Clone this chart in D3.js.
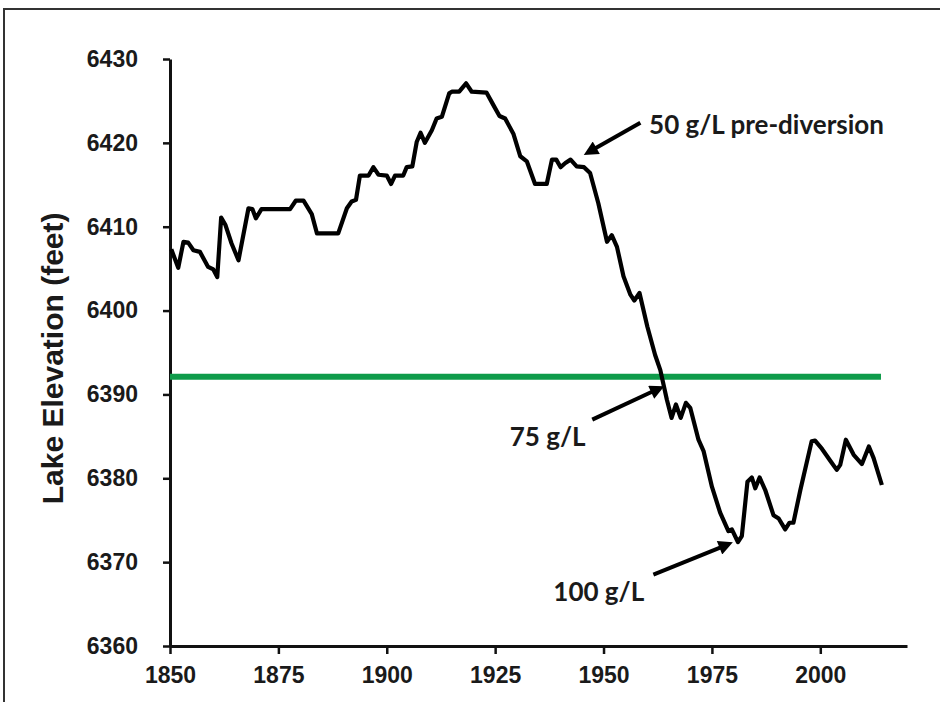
<!DOCTYPE html>
<html>
<head>
<meta charset="utf-8">
<script src="https://cdn.jsdelivr.net/npm/d3@7"></script>
<style>
body { margin: 0; background: #fff; }
svg { display: block; }
</style>
</head>
<body>
<div id="chart"></div>
<script>
// lake elevation (year, feet)
var years = [1850.3, 1851.9, 1853.1, 1854.2, 1855.4, 1856.9, 1858.8, 1860.0, 1860.9, 1861.8,
    1862.8, 1864.2, 1865.8, 1868.1, 1869.0, 1869.8, 1871.1, 1877.7, 1879.0, 1880.8,
    1882.7, 1883.9, 1888.8, 1890.8, 1891.9, 1892.9, 1893.8, 1895.8, 1896.9, 1898.1,
    1900.0, 1901.0, 1901.9, 1903.8, 1904.6, 1905.9, 1906.9, 1907.8, 1908.8, 1910.4,
    1911.5, 1912.7, 1914.4, 1915.0, 1916.7, 1918.3, 1919.6, 1923.0, 1924.6, 1926.0,
    1927.3, 1929.2, 1930.8, 1932.3, 1934.2, 1936.9, 1938.1, 1939.1, 1940.1, 1941.2,
    1942.4, 1943.8, 1945.5, 1946.9, 1948.8, 1950.8, 1951.9, 1953.1, 1954.6, 1956.2,
    1957.1, 1958.3, 1960.1, 1961.9, 1963.1, 1964.6, 1965.7, 1966.7, 1967.8, 1969.0,
    1970.0, 1971.9, 1973.1, 1975.0, 1976.9, 1978.8, 1979.6, 1981.0, 1981.9, 1983.2,
    1984.2, 1985.0, 1986.0, 1987.3, 1989.2, 1990.4, 1991.9, 1992.9, 1993.8, 1995.4,
    1998.0, 1998.8, 2000.4, 2002.3, 2003.8, 2004.6, 2005.9, 2007.7, 2009.6, 2011.2,
    2012.3, 2014.2];
var elevation = [6407.3, 6405.1, 6408.2, 6408.1, 6407.2, 6407.0, 6405.2, 6404.9, 6404.0, 6411.1,
    6410.2, 6408.0, 6406.0, 6412.2, 6412.1, 6411.0, 6412.1, 6412.1, 6413.1, 6413.1,
    6411.5, 6409.2, 6409.2, 6412.2, 6413.0, 6413.2, 6416.1, 6416.1, 6417.1, 6416.2,
    6416.1, 6415.1, 6416.1, 6416.1, 6417.1, 6417.2, 6420.1, 6421.2, 6420.0, 6421.5,
    6422.9, 6423.1, 6425.9, 6426.1, 6426.1, 6427.1, 6426.1, 6426.0, 6424.5, 6423.2,
    6422.9, 6421.1, 6418.4, 6417.8, 6415.1, 6415.1, 6418.0, 6418.0, 6417.1, 6417.6,
    6418.0, 6417.2, 6417.1, 6416.4, 6412.8, 6408.2, 6409.0, 6407.6, 6404.1, 6401.9,
    6401.2, 6402.1, 6398.1, 6394.7, 6392.9, 6389.4, 6387.2, 6388.8, 6387.2, 6389.0,
    6388.4, 6384.6, 6383.2, 6379.0, 6375.9, 6373.7, 6373.9, 6372.4, 6373.1, 6379.6,
    6380.1, 6378.8, 6380.1, 6378.6, 6375.6, 6375.2, 6373.9, 6374.7, 6374.7, 6378.6,
    6384.4, 6384.5, 6383.5, 6382.1, 6381.0, 6381.6, 6384.6, 6382.8, 6381.7, 6383.8,
    6382.4, 6379.2];

var xTicks = [1850, 1875, 1900, 1925, 1950, 1975, 2000];
var yTicks = [6360, 6370, 6380, 6390, 6400, 6410, 6420, 6430];

// green reference level (75 g/L)
var refLevel = 6392.1;
var refYears = [1850, 2014];

// annotation labels and arrows, in data units
var noteLabels = ['50 g/L pre-diversion', '75 g/L', '100 g/L'];
var noteTextAt = [[1960.5, 6422.2], [1937.1, 6385.0], [1948.9, 6366.5]];
var noteAnchor = ['start', 'middle', 'middle'];
var arrowFrom = [[1958.5, 6422.4], [1947.4, 6387.0], [1961.5, 6368.5]];
var arrowTo = [[1946.6, 6418.9], [1962.8, 6390.7], [1978.6, 6372.1]];

var width = 940, height = 702;
var margin = {top: 59, right: 33, bottom: 56, left: 170};

var svg = d3.select('#chart').append('svg')
    .attr('width', width)
    .attr('height', height);

// outer frame (only top and left edges show)
svg.append('path')
    .attr('d', 'M4,702 L4,9 L940,9')
    .attr('fill', 'none')
    .attr('stroke', '#333')
    .attr('stroke-width', 2);

var x = d3.scaleLinear().domain([1850, 2020]).range([margin.left, width - margin.right]);
var y = d3.scaleLinear().domain([6360, 6430]).range([height - margin.bottom, margin.top]);

var tickFont = '"Liberation Sans", Arial, sans-serif';

var xAxis = svg.append('g')
    .attr('transform', 'translate(0,' + (height - margin.bottom) + ')')
    .call(d3.axisBottom(x).tickValues(xTicks).tickFormat(d3.format('d')).tickSize(8).tickSizeOuter(0));
xAxis.select('.domain').attr('stroke', '#111').attr('stroke-width', 3);
xAxis.selectAll('.tick line').attr('stroke', '#111').attr('stroke-width', 2.5);
xAxis.selectAll('.tick text')
    .attr('dy', '1.15em')
    .style('font-family', tickFont)
    .style('font-size', '23px')
    .style('font-weight', 'bold')
    .attr('fill', '#1a1a1a');

var yAxis = svg.append('g')
    .attr('transform', 'translate(' + margin.left + ',0)')
    .call(d3.axisLeft(y).tickValues(yTicks).tickFormat(d3.format('d')).tickSize(7).tickSizeOuter(0));
yAxis.select('.domain').attr('stroke', '#111').attr('stroke-width', 3);
yAxis.selectAll('.tick line').attr('stroke', '#111').attr('stroke-width', 2.5);
yAxis.selectAll('.tick text')
    .attr('x', -32)
    .style('font-family', tickFont)
    .style('font-size', '23px')
    .style('font-weight', 'bold')
    .attr('fill', '#1a1a1a');

svg.append('text')
    .attr('transform', 'translate(52,' + y(6394.3) + ') rotate(-90)')
    .attr('text-anchor', 'middle')
    .attr('dominant-baseline', 'central')
    .style('font-family', tickFont)
    .style('font-size', '30px')
    .style('font-weight', 'bold')
    .attr('fill', '#1a1a1a')
    .text('Lake Elevation (feet)');

// green level line
svg.append('line')
    .attr('x1', x(refYears[0]))
    .attr('x2', x(refYears[1]))
    .attr('y1', y(refLevel))
    .attr('y2', y(refLevel))
    .attr('stroke', '#0e9b4a')
    .attr('stroke-width', 6);

var data = years.map(function(d, i) { return [d, elevation[i]]; });
var line = d3.line()
    .x(function(d) { return x(d[0]); })
    .y(function(d) { return y(d[1]); });

svg.append('path')
    .datum(data)
    .attr('d', line)
    .attr('fill', 'none')
    .attr('stroke', '#000')
    .attr('stroke-width', 4.2)
    .attr('stroke-linejoin', 'round');

svg.append('defs').append('marker')
    .attr('id', 'head')
    .attr('viewBox', '0 0 10 10')
    .attr('refX', 6)
    .attr('refY', 5)
    .attr('markerWidth', 4.2)
    .attr('markerHeight', 3.6)
    .attr('markerUnits', 'strokeWidth')
    .attr('orient', 'auto')
    .append('path')
    .attr('d', 'M0,0 L10,5 L0,10 Z')
    .attr('fill', '#000');

noteLabels.forEach(function(label, i) {
    var a = arrowFrom[i], b = arrowTo[i];
    svg.append('line')
        .attr('x1', x(a[0])).attr('y1', y(a[1]))
        .attr('x2', x(b[0])).attr('y2', y(b[1]))
        .attr('stroke', '#000')
        .attr('stroke-width', 4)
        .attr('marker-end', 'url(#head)');
    svg.append('text')
        .attr('x', x(noteTextAt[i][0]))
        .attr('y', y(noteTextAt[i][1]))
        .attr('text-anchor', noteAnchor[i])
        .attr('dominant-baseline', 'central')
        .style('font-family', 'Lato, "Open Sans", sans-serif')
        .style('font-size', '26px')
        .style('font-weight', 'bold')
        .attr('fill', '#1a1a1a')
        .text(label);
});
</script>
</body>
</html>
